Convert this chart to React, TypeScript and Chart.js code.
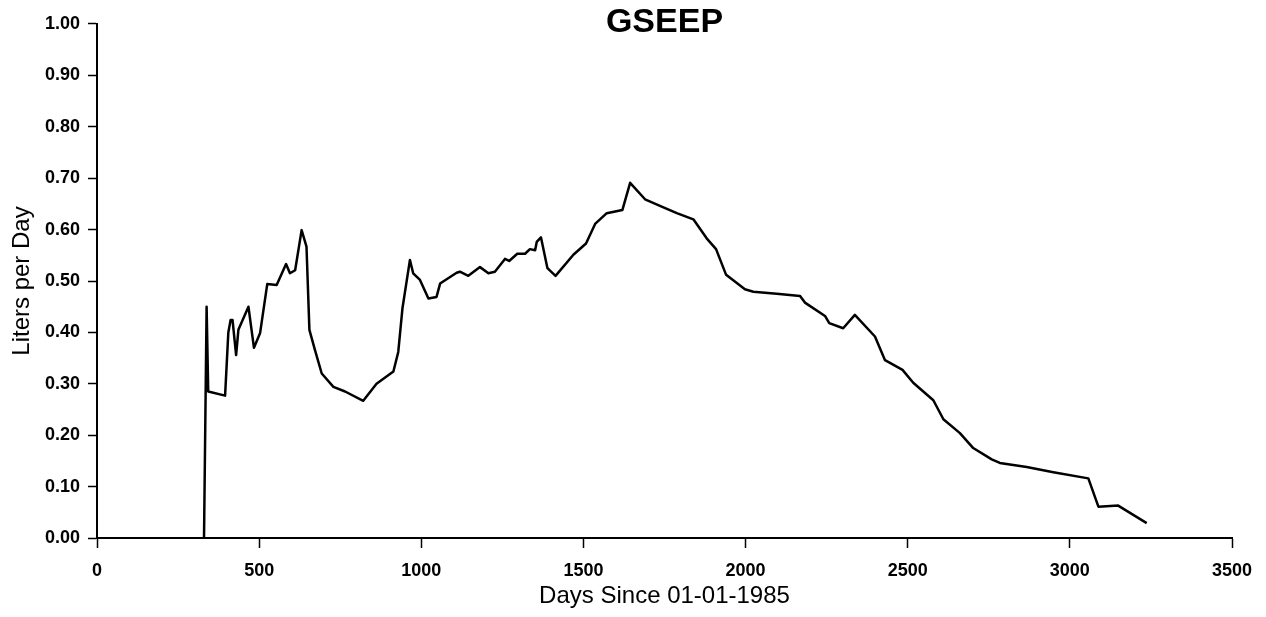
import React, { useEffect, useRef } from "react";
import { Chart, registerables } from "chart.js";

Chart.register(...registerables);

const titleText = "GSEEP";
const xAxisTitle = "Days Since 01-01-1985";
const yAxisTitle = "Liters per Day";

const days: number[] = [
  330, 338, 343, 395, 405, 412, 418, 429, 436, 467, 484, 503, 525, 554, 583, 595, 611, 631, 646, 655,
  672, 693, 729, 765, 821, 862, 914, 929, 942, 965, 975, 996, 1022, 1047, 1058, 1109, 1119, 1145, 1181, 1207,
  1227, 1258, 1271, 1296, 1320, 1335, 1351, 1356, 1369, 1389, 1414, 1469, 1508, 1536, 1572, 1620, 1644, 1690, 1736, 1788,
  1839, 1880, 1909, 1940, 1998, 2024, 2096, 2168, 2183, 2245, 2258, 2301, 2337, 2399, 2430, 2484, 2517, 2579, 2610, 2661,
  2702, 2759, 2784, 2867, 2949, 3057, 3088, 3149, 3237,
];

const litersPerDay: number[] = [
  0.0, 0.45, 0.285, 0.277, 0.40, 0.424, 0.424, 0.356, 0.405, 0.45, 0.37, 0.399, 0.494, 0.492, 0.533, 0.515, 0.521, 0.599, 0.567, 0.405,
  0.366, 0.32, 0.294, 0.285, 0.267, 0.30, 0.324, 0.362, 0.447, 0.541, 0.515, 0.502, 0.466, 0.469, 0.495, 0.516, 0.518, 0.51, 0.527, 0.515,
  0.518, 0.543, 0.539, 0.553, 0.553, 0.562, 0.56, 0.576, 0.585, 0.525, 0.51, 0.551, 0.573, 0.611, 0.632, 0.638, 0.691, 0.659, 0.646, 0.632,
  0.62, 0.583, 0.562, 0.512, 0.484, 0.479, 0.475, 0.471, 0.458, 0.432, 0.418, 0.408, 0.434, 0.392, 0.346, 0.327, 0.302, 0.268, 0.231, 0.204,
  0.175, 0.153, 0.146, 0.138, 0.128, 0.116, 0.061, 0.063, 0.029,
];

const xMin = 0;
const xMax = 3500;
const xStep = 500;
const yMin = 0;
const yMax = 1;
const yStep = 0.1;

const FONT = "'Liberation Sans', Arial, Helvetica, sans-serif";

export default function App() {
  const canvasRef = useRef<HTMLCanvasElement | null>(null);

  useEffect(() => {
    if (!canvasRef.current) return;
    const points = days.map((d, i) => ({ x: d, y: litersPerDay[i] }));
    const chart = new Chart(canvasRef.current, {
      type: "line",
      data: {
        datasets: [
          {
            data: points,
            borderColor: "#000",
            borderWidth: 2.5,
            pointRadius: 0,
            tension: 0,
            fill: false,
            borderJoinStyle: "round",
          },
        ],
      },
      options: {
        responsive: false,
        animation: false,
        layout: { padding: { left: 0, right: 34, top: 0, bottom: 0 } },
        plugins: {
          legend: { display: false },
          tooltip: { enabled: false },
          title: {
            display: true,
            text: titleText,
            fullSize: false,
            color: "#000",
            font: { family: FONT, size: 34, weight: "bold" },
            padding: { top: 2, bottom: -18.8 },
          },
        },
        scales: {
          x: {
            type: "linear",
            min: xMin,
            max: xMax,
            ticks: {
              stepSize: xStep,
              color: "#000",
              padding: 12,
              font: { family: FONT, size: 18, weight: "bold" },
              maxRotation: 0,
              callback: (v: any) => String(v),
            },
            grid: {
              drawOnChartArea: false,
              drawTicks: true,
              tickLength: 10,
              color: "#000",
              tickWidth: 1.5,
            },
            border: { display: true, color: "#000", width: 2 },
            title: {
              display: true,
              text: xAxisTitle,
              color: "#000",
              font: { family: FONT, size: 24 },
              padding: { top: 0, bottom: 6 },
            },
            afterFit: (scale: any) => {
              scale.height = 79;
              scale.paddingLeft = 0;
              scale.paddingRight = 0;
            },
          },
          y: {
            type: "linear",
            min: yMin,
            max: yMax,
            ticks: {
              stepSize: yStep,
              color: "#000",
              padding: 8,
              font: { family: FONT, size: 18, weight: "bold" },
              callback: (v: any) => Number(v).toFixed(2),
            },
            grid: {
              drawOnChartArea: false,
              drawTicks: true,
              tickLength: 9,
              color: "#000",
              tickWidth: 1.5,
            },
            border: { display: true, color: "#000", width: 2 },
            title: {
              display: true,
              text: yAxisTitle,
              color: "#000",
              font: { family: FONT, size: 24 },
              padding: { top: 8, bottom: 0 },
            },
            afterFit: (scale: any) => {
              scale.width = 97;
              scale.paddingTop = 0;
              scale.paddingBottom = 0;
            },
          },
        },
      },
    } as any);
    return () => chart.destroy();
  }, []);

  return (
    <div style={{ position: "absolute", left: 0, top: 0, width: 1266, height: 617, background: "#fff" }}>
      <canvas ref={canvasRef} width={1266} height={617} style={{ display: "block" }} />
    </div>
  );
}
